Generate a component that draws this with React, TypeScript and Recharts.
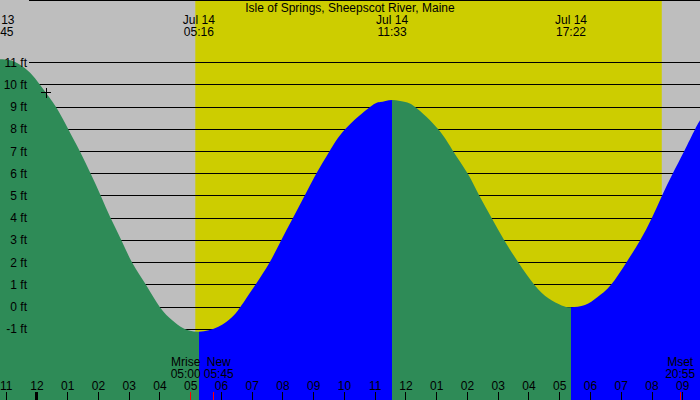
import React from 'react';
import {
    AreaChart,
    Area,
    XAxis,
    YAxis,
    CartesianGrid,
    ReferenceArea,
    ReferenceLine,
    ReferenceDot
} from 'recharts';

const title = 'Isle of Springs, Sheepscot River, Maine';

// tide height (ft), hours counted from midnight Jul 14
const tideHours = [
    -1.2, -0.87, -0.55, -0.22, 0.1, 0.43, 0.7, 1.02, 1.4, 1.75, 2.08, 2.4, 2.75, 3.1, 3.55,
    4.0, 4.39, 4.76, 5.27, 5.9, 6.34, 6.61, 7.1, 7.56, 7.94, 8.32, 8.7, 9.08, 9.51, 10.02,
    10.83, 11.16, 11.55, 11.94, 12.3, 13.05, 13.54, 14.01, 14.39, 14.79, 15.2, 15.66, 16.18,
    16.63, 17.06, 17.37, 17.82, 18.22, 18.66, 19.16, 19.61, 19.99, 20.32, 20.67, 21.04, 21.4, 21.56
];
const tideFeet = [
    11.15, 11.1, 10.9, 10.54, 10, 9.38, 8.82, 8, 7, 6, 5, 4, 3, 2, 1,
    0, -0.57, -0.94, -1.1, -0.88, -0.45, 0, 1, 2, 3, 4, 5, 6, 7, 8,
    9, 9.22, 9.32, 9.24, 9, 8, 7, 6, 5, 4, 3, 2, 1,
    0.4, 0.08, 0, 0.1, 0.45, 1, 2, 3, 4, 5, 6, 7, 8, 8.4
];

const extremeDays = ['Jul 13', 'Jul 14', 'Jul 14', 'Jul 14'];
const extremeTimes = ['22:45', '05:16', '11:33', '17:22'];
const extremeKinds = ['high', 'low', 'high', 'low'];

const sunrise = '05:09';
const sunset = '20:19';

const moonNames = ['Mrise', 'New', 'Mset'];
const moonTimes = ['05:00', '05:45', '20:55'];
const moonNudge = [-5, 5, 0];

const nowTime = '00:18';
const nowFeet = 9.65;

const hourTicks = [-1, 0, 1, 2, 3, 4, 5, 6, 7, 8, 9, 10, 11, 12, 13, 14, 15, 16, 17, 18, 19, 20, 21];
const hourLabels = ['11', '12', '01', '02', '03', '04', '05', '06', '07', '08', '09', '10', '11', '12',
    '01', '02', '03', '04', '05', '06', '07', '08', '09'];
const feetTicks = [-1, 0, 1, 2, 3, 4, 5, 6, 7, 8, 9, 10, 11];

const NIGHT = '#bebebe';
const DAY = '#cdcd00';
const EBB = '#2e8b57';
const FLOOD = '#0000ff';
const FONT = '"Liberation Sans", Arial, sans-serif';

const toHours = (clock: string, day = 'Jul 14') => {
    const [h, m] = clock.split(':').map(Number);
    return h + m / 60 + (day === 'Jul 13' ? -24 : 0);
};

const xMin = tideHours[0];
const xMax = tideHours[tideHours.length - 1];
const yMin = -4.17;
const yMax = 13.81;

const data = tideHours.map((t, i) => ({ t, ft: tideFeet[i] }));
const extremeHours = extremeTimes.map((c, i) => toHours(c, extremeDays[i]));
const moonHours = moonTimes.map((c) => toHours(c));
const allTicks = Array.from(new Set([...hourTicks, ...moonHours])).sort((a, b) => a - b);

// hard colour switch at every turn of the tide: ebb green, flood blue
const frac = (t: number) => Math.min(1, Math.max(0, (t - xMin) / (xMax - xMin)));
const stops = extremeHours.flatMap((t, i) => {
    const color = extremeKinds[i] === 'high' ? EBB : FLOOD;
    const end = i + 1 < extremeHours.length ? frac(extremeHours[i + 1]) : 1;
    return [{ offset: frac(t), color }, { offset: end, color }];
});

const YTick = (props: any) => (
    <text x={27} y={props.y + 4} textAnchor="end" fontSize={12} fontFamily={FONT} fill="#000">
        {props.payload.value} ft
    </text>
);

const XTick = (props: any) => {
    const v = props.payload.value;
    const x = props.x;
    const isMoon = moonHours.some((m) => Math.abs(m - v) < 1e-6);
    const hi = hourTicks.indexOf(v);
    return (
        <g>
            {isMoon ? (
                <line x1={x} x2={x} y1={392} y2={400} stroke="#ff0000" shapeRendering="crispEdges" />
            ) : (
                <line x1={x} x2={x} y1={392} y2={400} stroke="#000" strokeWidth={v === 0 ? 3 : 1} shapeRendering="crispEdges" />
            )}
            {hi >= 0 && (
                <text x={x} y={390} textAnchor="middle" fontSize={12} fontFamily={FONT} fill="#000">
                    {hourLabels[hi]}
                </text>
            )}
        </g>
    );
};

const TopLabel = (props: any) => {
    const x = props.viewBox ? props.viewBox.x : 0;
    return (
        <g>
            <text x={x} y={24} textAnchor="middle" fontSize={12} fontFamily={FONT} fill="#000">{props.day}</text>
            <text x={x} y={36} textAnchor="middle" fontSize={12} fontFamily={FONT} fill="#000">{props.clock}</text>
        </g>
    );
};

const MoonLabel = (props: any) => {
    const x = (props.viewBox ? props.viewBox.x : 0) + props.nudge;
    return (
        <g>
            <text x={x} y={366} textAnchor="middle" fontSize={12} fontFamily={FONT} fill="#000">{props.name}</text>
            <text x={x} y={378} textAnchor="middle" fontSize={12} fontFamily={FONT} fill="#000">{props.clock}</text>
        </g>
    );
};

const Cross = (props: any) => (
    <path
        d={`M${props.cx - 5},${props.cy}h10M${props.cx},${props.cy - 5}v10`}
        stroke="#000"
        strokeWidth={1}
        shapeRendering="crispEdges"
    />
);

export default function App() {
    return (
        <div style={{ position: 'relative', width: 700, height: 400, background: NIGHT }}>
            <style>{'body{margin:0}'}</style>
            <AreaChart width={700} height={400} data={data} margin={{ top: 0, right: 0, bottom: 0, left: 0 }}>
                <defs>
                    <linearGradient id="tideFill" x1="0" y1="0" x2="1" y2="0">
                        {stops.map((s, i) => (
                            <stop key={i} offset={s.offset} stopColor={s.color} />
                        ))}
                    </linearGradient>
                </defs>
                <ReferenceArea
                    x1={toHours(sunrise)}
                    x2={toHours(sunset)}
                    fill={DAY}
                    fillOpacity={1}
                    stroke="none"
                    zIndex={-200}
                />
                <CartesianGrid
                    vertical={false}
                    horizontal={(p: any) => (
                        <line
                            key={p.key}
                            x1={29}
                            x2={p.x2}
                            y1={p.y1}
                            y2={p.y2}
                            stroke="#000"
                            strokeWidth={1}
                            shapeRendering="crispEdges"
                        />
                    )}
                />
                <Area
                    type="natural"
                    dataKey="ft"
                    stroke="none"
                    fill="url(#tideFill)"
                    fillOpacity={1}
                    baseValue={yMin}
                    dot={false}
                    activeDot={false}
                    isAnimationActive={false}
                />
                <XAxis
                    type="number"
                    dataKey="t"
                    domain={[xMin, xMax]}
                    allowDataOverflow
                    ticks={allTicks}
                    interval={0}
                    mirror
                    height={30}
                    axisLine={false}
                    tickLine={false}
                    tick={<XTick />}
                />
                <YAxis
                    type="number"
                    domain={[yMin, yMax]}
                    allowDataOverflow
                    ticks={feetTicks}
                    interval={0}
                    mirror
                    width={30}
                    axisLine={false}
                    tickLine={false}
                    tick={<YTick />}
                />
                {extremeHours.map((t, i) => (
                    <ReferenceLine
                        key={'ex' + i}
                        x={t}
                        stroke="none"
                        ifOverflow="visible"
                        label={<TopLabel day={extremeDays[i]} clock={extremeTimes[i]} />}
                    />
                ))}
                {moonHours.map((t, i) => (
                    <ReferenceLine
                        key={'moon' + i}
                        x={t}
                        stroke="none"
                        ifOverflow="visible"
                        label={<MoonLabel name={moonNames[i]} clock={moonTimes[i]} nudge={moonNudge[i]} />}
                    />
                ))}
                <ReferenceDot x={toHours(nowTime)} y={nowFeet} r={5} shape={<Cross />} ifOverflow="visible" />
            </AreaChart>
            <svg width={700} height={20} style={{ position: 'absolute', left: 0, top: 0, pointerEvents: 'none' }}>
                <text x={350} y={12} textAnchor="middle" fontSize={12} fontFamily={FONT} fill="#000">{title}</text>
            </svg>
        </div>
    );
}
